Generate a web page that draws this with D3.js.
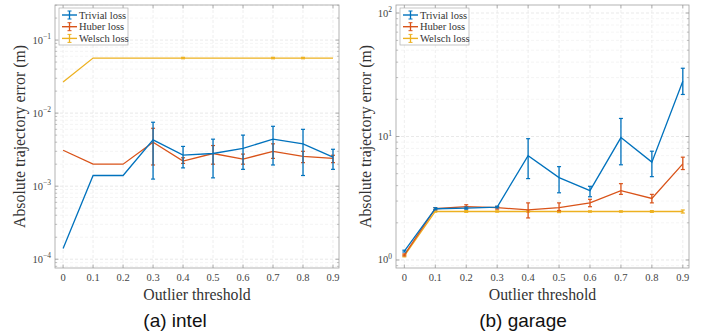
<!DOCTYPE html>
<meta charset="utf-8">
<style>
  body { margin: 0; background: #fff; }
  svg { display: block; }
  .tick-label { font-family: "Liberation Serif", "DejaVu Serif", serif; font-size: 10.5px; fill: #444; }
  .axis-title { font-family: "Liberation Serif", "DejaVu Serif", serif; font-size: 15.8px; fill: #333; }
  .legend text { font-family: "Liberation Serif", "DejaVu Serif", serif; font-size: 10.5px; fill: #333; }
  .caption { font-family: "Liberation Sans", Arial, sans-serif; font-size: 19px; fill: #111; }
</style>
<body>
<script src="https://d3js.org/d3.v7.min.js"></script>
<script>

var thresholds = [0, 0.1, 0.2, 0.3, 0.4, 0.5, 0.6, 0.7, 0.8, 0.9];
var seriesNames = ["Trivial loss", "Huber loss", "Welsch loss"];
var colors = ["#0072BD", "#D95319", "#EDB120"];

// intel
var intelTrivial    = [1.4e-4, 1.4e-3, 1.4e-3, 4.3e-3, 2.66e-3, 2.8e-3, 3.3e-3, 4.4e-3, 3.8e-3, 2.5e-3];
var intelTrivialLo  = [1.4e-4, 1.4e-3, 1.4e-3, 1.25e-3, 1.78e-3, 1.3e-3, 1.7e-3, 1.95e-3, 1.4e-3, 1.7e-3];
var intelTrivialHi  = [1.4e-4, 1.4e-3, 1.4e-3, 7.5e-3, 3.5e-3, 4.4e-3, 5.0e-3, 6.6e-3, 6.0e-3, 3.2e-3];
var intelHuber      = [3.1e-3, 2.0e-3, 2.0e-3, 4.0e-3, 2.2e-3, 2.8e-3, 2.35e-3, 3.0e-3, 2.55e-3, 2.4e-3];
var intelHuberLo    = [3.1e-3, 2.0e-3, 2.0e-3, 1.95e-3, 2.05e-3, 2.0e-3, 2.0e-3, 2.4e-3, 2.1e-3, 2.1e-3];
var intelHuberHi    = [3.1e-3, 2.0e-3, 2.0e-3, 6.2e-3, 2.45e-3, 3.6e-3, 2.75e-3, 3.8e-3, 3.0e-3, 2.65e-3];
var intelWelsch     = [0.0266, 0.0567, 0.0567, 0.0567, 0.0567, 0.0567, 0.0567, 0.0567, 0.0567, 0.0567];
var intelWelschLo   = [0.0266, 0.0567, 0.0567, 0.0567, 0.0555, 0.0567, 0.0567, 0.0555, 0.0555, 0.0567];
var intelWelschHi   = [0.0266, 0.0567, 0.0567, 0.0567, 0.0580, 0.0567, 0.0567, 0.0580, 0.0580, 0.0567];

// garage
var garageTrivial   = [1.18, 2.6, 2.63, 2.68, 7.0, 4.65, 3.64, 9.8, 6.2, 28];
var garageTrivialLo = [1.16, 2.55, 2.58, 2.64, 4.56, 3.5, 3.25, 5.9, 4.73, 21.9];
var garageTrivialHi = [1.2, 2.65, 2.68, 2.72, 9.6, 5.7, 3.95, 14, 7.6, 35.7];
var garageHuber     = [1.1, 2.6, 2.7, 2.65, 2.55, 2.65, 2.9, 3.64, 3.15, 6.0];
var garageHuberLo   = [1.08, 2.55, 2.6, 2.58, 2.19, 2.5, 2.7, 3.4, 2.9, 5.4];
var garageHuberHi   = [1.12, 2.65, 2.8, 2.72, 2.9, 2.9, 3.1, 4.15, 3.4, 6.8];
var garageWelsch    = [1.08, 2.47, 2.47, 2.47, 2.47, 2.47, 2.47, 2.47, 2.47, 2.47];
var garageWelschLo  = [1.06, 2.44, 2.43, 2.44, 2.44, 2.42, 2.44, 2.44, 2.43, 2.40];
var garageWelschHi  = [1.1, 2.5, 2.51, 2.5, 2.5, 2.52, 2.5, 2.5, 2.51, 2.54];

var intelYTicks = [1e-4, 1e-3, 1e-2, 1e-1];
var intelYLabels = ["\u22124", "\u22123", "\u22122", "\u22121"];
var garageYTicks = [1, 10, 100];
var garageYLabels = ["0", "1", "2"];

var W = 705, H = 335;
var svg = d3.select("body").append("svg").attr("width", W).attr("height", H);

function drawPanel(p) {
  var x = d3.scaleLinear().domain([-0.027, 0.92]).range([p.left, p.right]);
  var y = d3.scaleLog().domain(p.ydom).range([p.bottom, p.top]);
  var g = svg.append("g");

  // minor log values
  var minor = [];
  var lo = Math.floor(Math.log10(p.ydom[0])), hi = Math.ceil(Math.log10(p.ydom[1]));
  for (var e = lo; e < hi; e++) {
    for (var k = 2; k <= 9; k++) {
      var v = k * Math.pow(10, e);
      if (v > p.ydom[0] && v < p.ydom[1]) minor.push(v);
    }
  }
  g.selectAll(".ming").data(minor).enter().append("line")
    .attr("x1", p.left).attr("x2", p.right)
    .attr("y1", d => y(d)).attr("y2", d => y(d))
    .attr("stroke", "#efefef").attr("stroke-width", 0.6).attr("stroke-dasharray", "3,2");
  g.selectAll(".majg").data(p.yticks).enter().append("line")
    .attr("x1", p.left).attr("x2", p.right)
    .attr("y1", d => y(d)).attr("y2", d => y(d))
    .attr("stroke", "#e0e0e0").attr("stroke-width", 0.7).attr("stroke-dasharray", "3,2");
  g.selectAll(".vg").data(thresholds).enter().append("line")
    .attr("x1", d => x(d)).attr("x2", d => x(d))
    .attr("y1", p.top).attr("y2", p.bottom)
    .attr("stroke", "#e6e6e6").attr("stroke-width", 0.7).attr("stroke-dasharray", "3,2");

  // axes box
  g.append("rect").attr("x", p.left).attr("y", p.top)
    .attr("width", p.right - p.left).attr("height", p.bottom - p.top)
    .attr("fill", "none").attr("stroke", "#a0a0a0").attr("stroke-width", 0.8);

  // ticks inside the box
  [p.left, p.right].forEach(function (sx, i) {
    var dir = i === 0 ? 1 : -1;
    g.selectAll(null).data(p.yticks).enter().append("line")
      .attr("x1", sx).attr("x2", sx + dir * 3.5)
      .attr("y1", d => y(d)).attr("y2", d => y(d))
      .attr("stroke", "#909090").attr("stroke-width", 0.7);
    g.selectAll(null).data(minor).enter().append("line")
      .attr("x1", sx).attr("x2", sx + dir * 2)
      .attr("y1", d => y(d)).attr("y2", d => y(d))
      .attr("stroke", "#a0a0a0").attr("stroke-width", 0.6);
  });
  [p.bottom, p.top].forEach(function (sy, i) {
    var dir = i === 0 ? -1 : 1;
    g.selectAll(null).data(thresholds).enter().append("line")
      .attr("x1", d => x(d)).attr("x2", d => x(d))
      .attr("y1", sy).attr("y2", sy + dir * 3.5)
      .attr("stroke", "#909090").attr("stroke-width", 0.7);
  });

  // tick labels
  g.selectAll(".xl").data(thresholds).enter().append("text")
    .attr("class", "tick-label")
    .attr("x", d => x(d)).attr("y", p.bottom + 13)
    .attr("text-anchor", "middle")
    .text(d => d3.format("")(d));
  var yl = g.selectAll(".yl").data(p.yticks).enter().append("text")
    .attr("class", "tick-label")
    .attr("x", p.left - 4).attr("y", d => y(d) + 3.5)
    .attr("text-anchor", "end");
  yl.append("tspan").text("10");
  yl.append("tspan").attr("dy", -4.5).attr("font-size", "7.5px").text((d, i) => p.ylabels[i]);

  // titles
  g.append("text").attr("class", "axis-title")
    .attr("x", (p.left + p.right) / 2).attr("y", p.bottom + 32)
    .attr("text-anchor", "middle").text("Outlier threshold");
  g.append("text").attr("class", "axis-title")
    .attr("transform", "translate(" + p.ylabX + "," + ((p.top + p.bottom) / 2) + ") rotate(-90)")
    .attr("text-anchor", "middle").text("Absolute trajectory error (m)");
  g.append("text").attr("class", "caption")
    .attr("x", p.capX).attr("y", 327)
    .attr("text-anchor", "middle").text(p.caption);

  // series, reversed so that Trivial is on top
  var line = d3.line().x(d => x(d.t)).y(d => y(d.v));
  for (var s = p.series.length - 1; s >= 0; s--) {
    var ser = p.series[s];
    var pts = thresholds.map((t, i) => ({ t: t, v: ser.v[i], lo: ser.lo[i], hi: ser.hi[i] }));
    var sg = g.append("g");
    sg.append("path").datum(pts).attr("d", line)
      .attr("fill", "none").attr("stroke", colors[s]).attr("stroke-width", 1.3);
    var eb = sg.selectAll(".eb").data(pts.filter(d => d.hi > d.lo)).enter().append("g");
    eb.append("line").attr("x1", d => x(d.t)).attr("x2", d => x(d.t))
      .attr("y1", d => y(d.lo)).attr("y2", d => y(d.hi))
      .attr("stroke", colors[s]).attr("stroke-width", 1.3);
    eb.append("line").attr("x1", d => x(d.t) - 2).attr("x2", d => x(d.t) + 2)
      .attr("y1", d => y(d.lo)).attr("y2", d => y(d.lo))
      .attr("stroke", colors[s]).attr("stroke-width", 1.2);
    eb.append("line").attr("x1", d => x(d.t) - 2).attr("x2", d => x(d.t) + 2)
      .attr("y1", d => y(d.hi)).attr("y2", d => y(d.hi))
      .attr("stroke", colors[s]).attr("stroke-width", 1.2);
  }

  // legend
  var lg = g.append("g").attr("class", "legend")
    .attr("transform", "translate(" + p.legX + "," + (p.top + 3) + ")");
  lg.append("rect").attr("width", p.legW).attr("height", 37)
    .attr("fill", "#fff").attr("stroke", "#b0b0b0").attr("stroke-width", 0.7);
  seriesNames.forEach(function (name, i) {
    var cy = 7 + i * 11.7;
    lg.append("line").attr("x1", 3).attr("x2", 18).attr("y1", cy).attr("y2", cy)
      .attr("stroke", colors[i]).attr("stroke-width", 1.4);
    lg.append("line").attr("x1", 10.5).attr("x2", 10.5).attr("y1", cy - 4).attr("y2", cy + 4)
      .attr("stroke", colors[i]).attr("stroke-width", 1.3);
    lg.append("line").attr("x1", 8.5).attr("x2", 12.5).attr("y1", cy - 4).attr("y2", cy - 4)
      .attr("stroke", colors[i]).attr("stroke-width", 1);
    lg.append("line").attr("x1", 8.5).attr("x2", 12.5).attr("y1", cy + 4).attr("y2", cy + 4)
      .attr("stroke", colors[i]).attr("stroke-width", 1);
    lg.append("text").attr("x", 20).attr("y", cy + 3.5).text(name);
  });
}

drawPanel({
  left: 55, right: 339, top: 5, bottom: 268,
  ydom: [Math.pow(10, -4.12), Math.pow(10, -0.52)],
  yticks: intelYTicks, ylabels: intelYLabels,
  ylabX: 25, capX: 175, caption: "(a) intel", legX: 59, legW: 69,
  series: [
    { v: intelTrivial, lo: intelTrivialLo, hi: intelTrivialHi },
    { v: intelHuber, lo: intelHuberLo, hi: intelHuberHi },
    { v: intelWelsch, lo: intelWelschLo, hi: intelWelschHi }
  ]
});

drawPanel({
  left: 396, right: 689, top: 5, bottom: 268,
  ydom: [Math.pow(10, -0.065), Math.pow(10, 2.065)],
  yticks: garageYTicks, ylabels: garageYLabels,
  ylabX: 371, capX: 523, caption: "(b) garage", legX: 400, legW: 69,
  series: [
    { v: garageTrivial, lo: garageTrivialLo, hi: garageTrivialHi },
    { v: garageHuber, lo: garageHuberLo, hi: garageHuberHi },
    { v: garageWelsch, lo: garageWelschLo, hi: garageWelschHi }
  ]
});

</script>
</body>
